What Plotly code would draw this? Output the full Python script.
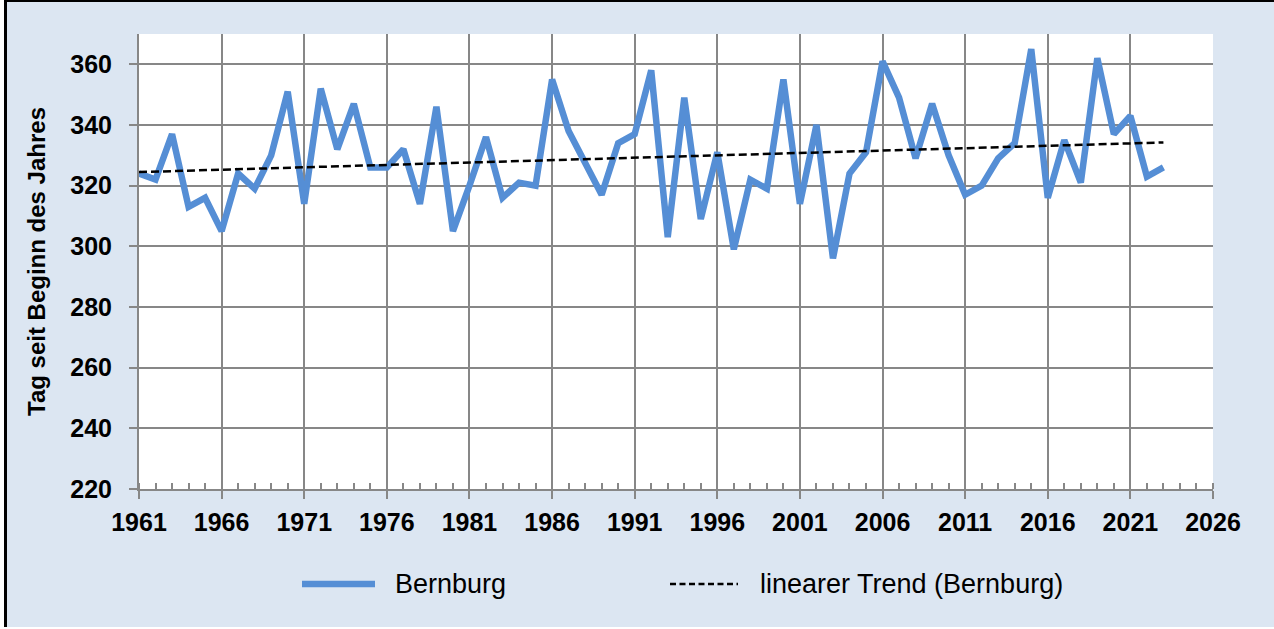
import numpy as np
import plotly.graph_objects as go

years = list(range(1961, 2024))
bernburg = [324, 322, 337, 313, 316, 305, 324, 319, 330, 351,
            314, 352, 332, 347, 326, 326, 332, 314, 346, 305,
            320, 336, 316, 321, 320, 355, 338, 327, 317, 334,
            337, 358, 303, 349, 309, 331, 299, 322, 319, 355,
            314, 340, 296, 324, 331, 361, 349, 329, 347, 330,
            317, 320, 329, 334, 365, 316, 335, 321, 362, 337,
            343, 323, 326]
y_ticks = [220, 240, 260, 280, 300, 320, 340, 360]
x_ticks = list(range(1961, 2027, 5))
series_name = "Bernburg"
trend_name = "linearer Trend (Bernburg)"
y_title = "Tag seit Beginn des Jahres"

# linear trend from the data
coef = np.polyfit(years, bernburg, 1)
trend = list(np.polyval(coef, years))

BLUE = "#558ED5"
GRID = "#878787"
BG = "#DCE6F2"
FONT = "Arial, Liberation Sans, sans-serif"

fig = go.Figure()
fig.add_trace(go.Scatter(x=years, y=bernburg, mode="lines", name=series_name,
                         line=dict(color=BLUE, width=6.5), showlegend=False))
fig.add_trace(go.Scatter(x=years, y=trend, mode="lines", name=trend_name,
                         line=dict(color="black", width=2.5, dash="8px,4px"), showlegend=False))

W, H = 1274, 629
L, R, T, B = 139, 61, 34, 140
pw, ph = W - L - R, H - T - B

def px(x):
    return (x - L) / pw

def py(y):
    return (H - B - y) / ph

shapes = []
# frame pieces (black left and top edge)
shapes.append(dict(type="rect", xref="paper", yref="paper", x0=px(4), x1=px(7), y0=py(627), y1=py(0),
                   fillcolor="black", line=dict(width=0), layer="above"))
shapes.append(dict(type="rect", xref="paper", yref="paper", x0=px(4), x1=px(W), y0=py(2), y1=py(0),
                   fillcolor="black", line=dict(width=0), layer="above"))
shapes.append(dict(type="rect", xref="paper", yref="paper", x0=px(0), x1=px(4), y0=py(H), y1=py(0),
                   fillcolor="white", line=dict(width=0), layer="above"))
shapes.append(dict(type="rect", xref="paper", yref="paper", x0=px(0), x1=px(W), y0=py(H), y1=py(627),
                   fillcolor="white", line=dict(width=0), layer="above"))
# legend symbols
ly = py(584)
shapes.append(dict(type="line", xref="paper", yref="paper", x0=px(302), x1=px(375), y0=ly, y1=ly,
                   line=dict(color=BLUE, width=6.5)))
shapes.append(dict(type="line", xref="paper", yref="paper", x0=px(670), x1=px(738), y0=ly, y1=ly,
                   line=dict(color="black", width=2.5, dash="6px,3.5px")))

annotations = [
    dict(x=px(393), y=ly, xref="paper", yref="paper", text=series_name, showarrow=False,
         xanchor="left", yanchor="middle", font=dict(family=FONT, size=27, color="black")),
    dict(x=px(758), y=ly, xref="paper", yref="paper", text=trend_name, showarrow=False,
         xanchor="left", yanchor="middle", font=dict(family=FONT, size=27, color="black")),
]

fig.update_layout(
    width=W, height=H,
    margin=dict(l=L, r=R, t=T, b=B, pad=0),
    paper_bgcolor=BG, plot_bgcolor="white",
    font=dict(family=FONT, color="black"),
    shapes=shapes, annotations=annotations,
    showlegend=False,
)
fig.update_xaxes(
    range=[1961, 2026], tickmode="array", tickvals=x_ticks, ticktext=[str(v) for v in x_ticks],
    showgrid=True, gridcolor=GRID, gridwidth=2,
    showline=True, linecolor=GRID, linewidth=2, mirror=False,
    ticks="outside", ticklen=8, tickwidth=2, tickcolor=GRID,
    tickfont=dict(family=FONT, size=25, color="black", weight="bold"),
    ticklabelstandoff=2, zeroline=False,
    minor=dict(ticks="inside", dtick=1, tick0=1961, ticklen=6, tickwidth=1.5, tickcolor=GRID, showgrid=False),
)
fig.update_yaxes(
    range=[220, 370], tickmode="array", tickvals=y_ticks,
    showgrid=True, gridcolor=GRID, gridwidth=2,
    showline=True, linecolor=GRID, linewidth=2,
    ticks="outside", ticklen=8, tickwidth=2, tickcolor=GRID,
    tickfont=dict(family=FONT, size=25, color="black", weight="bold"),
    ticklabelstandoff=12, zeroline=False,
    title=dict(text=y_title, font=dict(family=FONT, size=24, color="black", weight="bold"), standoff=18),
)

fig.write_html("out.html", post_script="document.body.style.margin='0';",
               config={"displayModeBar": False})
